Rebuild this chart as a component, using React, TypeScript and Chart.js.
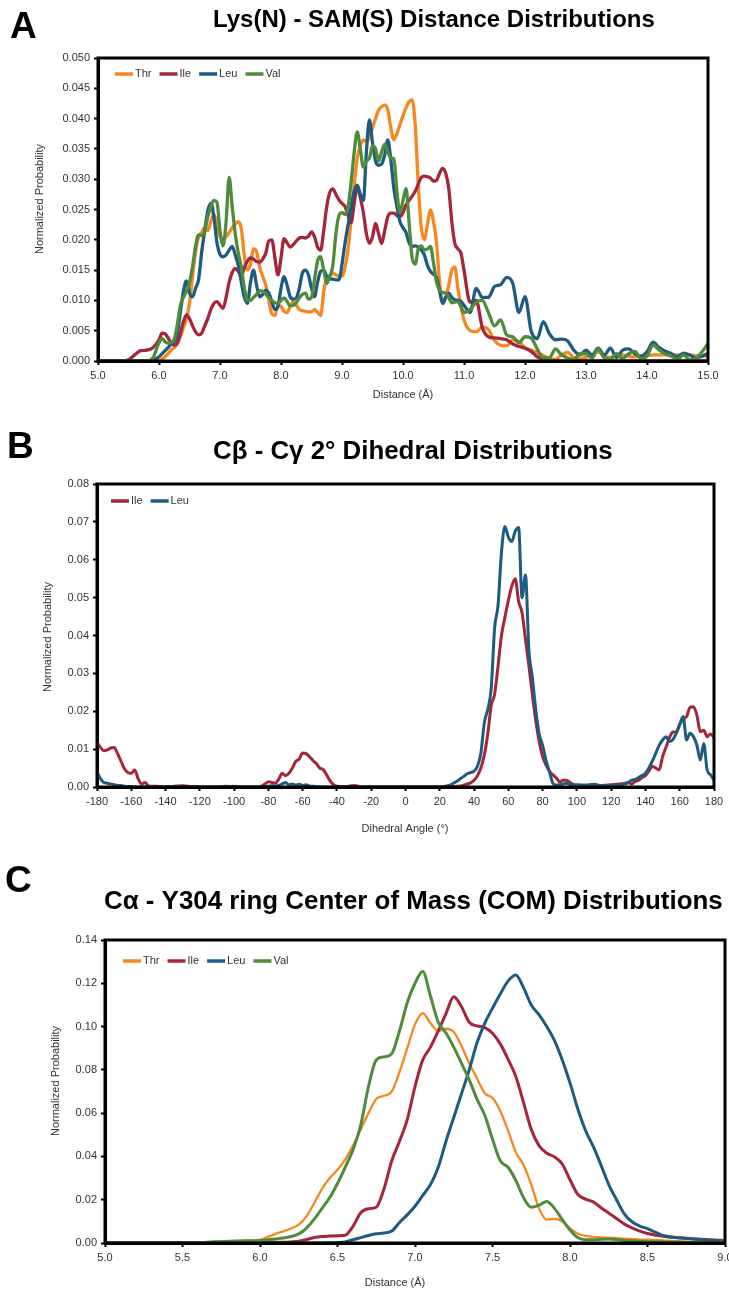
import React, { useEffect, useRef } from 'react';
import { Chart, registerables } from 'chart.js';

Chart.register(...registerables);

const FONT = '"Liberation Sans", Arial, Helvetica, sans-serif';
const W = 729;

const COLOR_THR = '#F5881F';
const COLOR_ILE = '#A3263A';
const COLOR_LEU = '#1E5B80';
const COLOR_VAL = '#4E8B3B';

// ---------------- Panel A: Lys(N) - SAM(S) distance ----------------
const distA = [
  5.0, 5.1, 5.2, 5.3, 5.4, 5.5, 5.6, 5.7, 5.8, 5.9,
  6.0, 6.05, 6.1, 6.15, 6.2, 6.25, 6.3, 6.35, 6.4, 6.45,
  6.5, 6.55, 6.6, 6.65, 6.7, 6.75, 6.8, 6.85, 6.9, 6.95,
  7.0, 7.05, 7.1, 7.15, 7.2, 7.25, 7.3, 7.35, 7.4, 7.45,
  7.5, 7.55, 7.6, 7.65, 7.7, 7.75, 7.8, 7.85, 7.9, 7.95,
  8.0, 8.05, 8.1, 8.15, 8.2, 8.25, 8.3, 8.35, 8.4, 8.45,
  8.5, 8.55, 8.6, 8.65, 8.7, 8.75, 8.8, 8.85, 8.9, 8.95,
  9.0, 9.05, 9.1, 9.15, 9.2, 9.25, 9.3, 9.35, 9.4, 9.45,
  9.5, 9.55, 9.6, 9.65, 9.7, 9.75, 9.8, 9.85, 9.9, 9.95,
  10.0, 10.05, 10.1, 10.15, 10.2, 10.25, 10.3, 10.35, 10.4, 10.45,
  10.5, 10.55, 10.6, 10.65, 10.7, 10.75, 10.8, 10.85, 10.9, 10.95,
  11.0,
  11.1, 11.2, 11.3, 11.4, 11.5, 11.6, 11.7, 11.8, 11.9, 12.0,
  12.1, 12.2, 12.3, 12.4, 12.5, 12.6, 12.7, 12.8, 12.9, 13.0,
  13.1, 13.2, 13.3, 13.4, 13.5, 13.6, 13.7, 13.8, 13.9, 14.0,
  14.1, 14.2, 14.3, 14.4, 14.5, 14.6, 14.7, 14.8, 14.9, 15.0,
];

const thrA = [
  0, 0, 0, 0, 0, 0, 0, 0, 0, 0,
  0, 0.0003, 0.0007, 0.0012, 0.0018, 0.0022, 0.0028, 0.004, 0.0055, 0.007,
  0.0095, 0.014, 0.018, 0.0205, 0.0212, 0.022, 0.0215, 0.023, 0.0242, 0.0225,
  0.0205, 0.0202, 0.0205, 0.0212, 0.022, 0.0226, 0.023, 0.0218, 0.0172, 0.015,
  0.016, 0.0185, 0.018, 0.0155, 0.014, 0.0125, 0.01, 0.0078, 0.0075, 0.0092,
  0.009, 0.0082, 0.008, 0.009, 0.0098, 0.0092, 0.0085, 0.0083, 0.0082, 0.0081,
  0.0081, 0.0085, 0.008, 0.0075, 0.0115, 0.0138, 0.014, 0.0145, 0.0142, 0.014,
  0.014, 0.0155, 0.0185, 0.0235, 0.029, 0.0335, 0.0355, 0.0365, 0.0362, 0.037,
  0.0385, 0.04, 0.0414, 0.042, 0.0422, 0.0415, 0.0385, 0.0365, 0.0375, 0.039,
  0.0405, 0.0418, 0.0428, 0.0431, 0.039, 0.029, 0.022, 0.02, 0.0225, 0.0249,
  0.023, 0.0195, 0.013, 0.0095, 0.0105, 0.0125, 0.015, 0.0155, 0.012, 0.009,
  0.0068,
  0.005, 0.0048, 0.0056, 0.0052, 0.0034, 0.0026, 0.0025, 0.0035, 0.0032, 0.0022,
  0.0018, 0.0014, 0.0009, 0.0004, 0.0003, 0.001, 0.0014, 0.0006, 0.0004, 0.0006,
  0.001, 0.0015, 0.0008, 0.0006, 0.0008, 0.001, 0.0008, 0.0007, 0.0008, 0.0009,
  0.001, 0.001, 0.001, 0.001, 0.001, 0.001, 0.001, 0.0009, 0.0008, 0.0008,
];

const ileA = [
  0, 0, 0, 0, 0, 0.0002, 0.001, 0.0017, 0.0018, 0.0022,
  0.0035, 0.0046, 0.0045, 0.0038, 0.003, 0.0026, 0.003, 0.0045, 0.0065, 0.0076,
  0.007, 0.0058, 0.0048, 0.0043, 0.0046, 0.0058, 0.007, 0.0085, 0.0095, 0.0098,
  0.0092, 0.0087, 0.0105, 0.013, 0.0146, 0.0153, 0.0148, 0.014, 0.0155, 0.0165,
  0.017, 0.0168, 0.0164, 0.0163, 0.0168, 0.0178, 0.0198, 0.02, 0.017, 0.0142,
  0.017, 0.0202, 0.0195, 0.0188, 0.0192, 0.0198, 0.0203, 0.0204, 0.0203, 0.0206,
  0.0213, 0.0205, 0.0188, 0.0183, 0.0215, 0.0255, 0.0278, 0.0284, 0.0275, 0.0266,
  0.026, 0.0255, 0.024, 0.0228, 0.026, 0.0288, 0.027, 0.0245, 0.021, 0.0194,
  0.0205, 0.0227, 0.021, 0.0194, 0.0215, 0.0238, 0.0244, 0.0244, 0.024, 0.0238,
  0.0245, 0.0258, 0.0265, 0.0272, 0.028, 0.0292, 0.0303, 0.0305, 0.0304, 0.0302,
  0.0297, 0.0298, 0.031, 0.0318, 0.031, 0.0285, 0.023, 0.0194, 0.0185, 0.0178,
  0.015,
  0.0097, 0.01, 0.0055, 0.004, 0.0038, 0.0037, 0.0035, 0.0028, 0.0024, 0.0021,
  0.0016, 0.0007, 0.0003, 0, 0, 0, 0, 0, 0, 0,
  0, 0, 0, 0, 0, 0, 0, 0, 0, 0,
  0, 0, 0, 0, 0, 0, 0, 0, 0, 0,
];

const leuA = [
  0, 0, 0, 0, 0, 0, 0, 0, 0, 0.0001,
  0.0007, 0.0012, 0.0017, 0.0022, 0.0028, 0.0032, 0.0045, 0.008, 0.0115, 0.0132,
  0.0112, 0.0106, 0.012, 0.0135, 0.018, 0.0215, 0.0248, 0.026, 0.0238, 0.0195,
  0.0176, 0.0172, 0.0175, 0.0183, 0.0189, 0.0175, 0.0158, 0.013, 0.0105, 0.0095,
  0.013, 0.015, 0.0125, 0.0106, 0.011, 0.0117, 0.0112, 0.0098, 0.0085, 0.009,
  0.012, 0.0139, 0.0125, 0.0106, 0.0102, 0.0104, 0.012, 0.0145, 0.015, 0.0142,
  0.012, 0.0106, 0.013, 0.0148, 0.015, 0.014, 0.0136, 0.0135, 0.0134, 0.0134,
  0.016, 0.0195, 0.0225, 0.0255, 0.028, 0.029, 0.0275, 0.0265, 0.0345, 0.0398,
  0.036, 0.033, 0.0323, 0.0325, 0.034, 0.0365, 0.0332, 0.0285, 0.0255, 0.023,
  0.022, 0.0212, 0.0195, 0.0189, 0.019, 0.0188, 0.0183, 0.0175, 0.0158, 0.0148,
  0.0143, 0.0138, 0.0115, 0.0095, 0.0105, 0.0112, 0.0105, 0.0101, 0.01, 0.0098,
  0.0092,
  0.008, 0.012, 0.0105, 0.0105, 0.0123, 0.0126, 0.0138, 0.0128, 0.008, 0.0106,
  0.005, 0.0037, 0.0065, 0.0045, 0.0035, 0.0036, 0.0033, 0.0018, 0.001, 0.0018,
  0.001, 0.0021, 0.001, 0.0021, 0.0006, 0.0018, 0.002, 0.0012, 0.0008, 0.0015,
  0.0031, 0.0022, 0.0016, 0.0012, 0.0007, 0.0013, 0.001, 0.0005, 0.0008, 0.0013,
];

const valA = [
  0, 0, 0, 0, 0, 0, 0, 0, 0, 0.0005,
  0.003, 0.0037, 0.0032, 0.0029, 0.0031, 0.0036, 0.006, 0.0092, 0.0105, 0.0115,
  0.013, 0.0156, 0.019, 0.0208, 0.0207, 0.0215, 0.0238, 0.0255, 0.0265, 0.0262,
  0.0215, 0.019, 0.023, 0.0303, 0.0255, 0.021, 0.0178, 0.0155, 0.012, 0.01,
  0.01, 0.0105, 0.011, 0.0116, 0.0115, 0.011, 0.0105, 0.01, 0.0096, 0.0095,
  0.01, 0.0104, 0.0098, 0.0091, 0.0092, 0.0096, 0.0104, 0.011, 0.0112, 0.0102,
  0.0105, 0.0135, 0.0165, 0.0172, 0.015, 0.0128, 0.014, 0.0158, 0.021, 0.024,
  0.0245, 0.0242, 0.0255, 0.0295, 0.0345, 0.0378, 0.035, 0.032, 0.033, 0.0335,
  0.0355, 0.035, 0.033, 0.0345, 0.0358, 0.0345, 0.0335, 0.0334, 0.028, 0.0245,
  0.0265, 0.0285, 0.0228, 0.017, 0.016, 0.0185, 0.019, 0.0183, 0.0185, 0.0189,
  0.0162, 0.013, 0.0117, 0.0113, 0.0112, 0.0105, 0.0096, 0.0097, 0.0098, 0.009,
  0.008,
  0.0085, 0.0097, 0.01, 0.008, 0.0058, 0.0068, 0.0043, 0.004, 0.003, 0.004,
  0.0038, 0.002, 0.0005, 0.0005, 0.002, 0.001, 0.0005, 0.0002, 0.0012, 0.0012,
  0.0005, 0.002, 0.0005, 0.0003, 0.0012, 0.0004, 0.0012, 0.0016, 0.0004, 0.0008,
  0.0026, 0.0018, 0.0012, 0.0008, 0.0003, 0.001, 0.0002, 0.0004, 0.0015, 0.0029,
];

// ---------------- Panel B: Cb - Cg dihedral ----------------
const angleB = [
  -180, -178, -176, -174, -172, -170, -168, -166, -164, -162, -160, -158, -156, -154, -152, -150,
  -145, -140, -135, -130, -125, -120, -115, -110, -105, -100, -95, -90,
  -86, -84, -82, -80, -78, -76, -74, -72, -70, -68, -66, -64, -62, -60, -58, -56, -54, -52, -50, -48, -46, -44, -42, -40,
  -35, -30, -25, -20, -15, -10, -5, 0, 5, 10, 15, 20,
  24, 26, 28, 30, 32, 34, 36, 38, 40, 42, 44, 46, 48, 50, 52, 54, 56, 58, 60, 62, 64, 66, 68, 70,
  72, 74, 76, 78, 80, 82, 84, 86, 88, 90, 92, 94, 96, 98, 100,
  105, 110, 115, 120, 125,
  128, 130, 132, 134, 136, 138, 140, 142, 144, 146, 148, 150, 152, 154, 156, 158, 160, 162, 164, 166, 168, 170, 172, 174, 176, 178, 180,
];

const ileB = [
  0.0118, 0.0105, 0.0096, 0.0098, 0.0103, 0.0104, 0.0088, 0.0068, 0.0048, 0.0038, 0.0036, 0.0045, 0.0022, 0.0008, 0.0012, 0.0003,
  0.0002, 0, 0.0002, 0.0003, 0.0001, 0, 0, 0, 0.0002, 0.0001, 0, 0,
  0, 0.0002, 0.0008, 0.0014, 0.0012, 0.001, 0.002, 0.0036, 0.003, 0.0036, 0.005, 0.0068, 0.0074, 0.009, 0.0088, 0.008, 0.007, 0.0062, 0.005, 0.0046, 0.0032, 0.0016, 0.0006, 0.0002,
  0.0001, 0.0004, 0, 0, 0, 0, 0, 0, 0, 0, 0, 0,
  0, 0, 0.0001, 0.0002, 0.0003, 0.0005, 0.0008, 0.0011, 0.0018, 0.003, 0.005, 0.0085, 0.014, 0.0215, 0.0245, 0.032, 0.04, 0.0448, 0.0492, 0.053, 0.055, 0.049, 0.046, 0.039,
  0.032, 0.0245, 0.0175, 0.012, 0.008, 0.0058, 0.0042, 0.0032, 0.0024, 0.0014, 0.0018, 0.0018, 0.0012, 0.0007, 0.0005,
  0.0004, 0.0003, 0.0004, 0.0006, 0.0008,
  0.001, 0.0012, 0.0008, 0.0015, 0.0018, 0.0025, 0.003, 0.0042, 0.0054, 0.005, 0.0045, 0.008, 0.0105, 0.013, 0.0145, 0.0145, 0.0165, 0.018, 0.0186, 0.021, 0.0212, 0.019, 0.0146, 0.015, 0.0133, 0.014, 0.013,
];

const leuB = [
  0.004, 0.0022, 0.0012, 0.001, 0.0008, 0.0006, 0.0004, 0.0004, 0.0002, 0.0001, 0.0001, 0, 0, 0, 0, 0,
  0, 0, 0, 0, 0, 0, 0, 0, 0, 0.0002, 0, 0,
  0, 0, 0.0001, 0.0002, 0.0003, 0.0002, 0.0004, 0.0008, 0.0012, 0.0006, 0.0008, 0.0005, 0.0007, 0.0004, 0.0006, 0.0003, 0.0002, 0.0001, 0, 0, 0, 0, 0, 0,
  0, 0, 0, 0, 0, 0, 0, 0, 0, 0, 0, 0,
  0.0003, 0.0005, 0.001, 0.0015, 0.0022, 0.0028, 0.0035, 0.0038, 0.0042, 0.0055, 0.009, 0.017, 0.0205, 0.026, 0.042, 0.048, 0.062, 0.0688, 0.066, 0.0648, 0.0675, 0.0685, 0.05, 0.056,
  0.036, 0.029, 0.0205, 0.014, 0.011, 0.007, 0.004, 0.001, 0.0005, 0.0006, 0.0008, 0.001, 0.0006, 0.0005, 0.0005,
  0.0005, 0.0007, 0.0003, 0.0003, 0.0005,
  0.0008, 0.0012, 0.0018, 0.002, 0.0025, 0.003, 0.0036, 0.005, 0.0068, 0.0089, 0.011, 0.0124, 0.0133, 0.012, 0.0125, 0.0142, 0.0165, 0.0186, 0.0124, 0.0142, 0.0133, 0.0111, 0.0071, 0.0115, 0.0045, 0.0032, 0.0018,
];

// ---------------- Panel C: Ca - Y304 ring COM distance ----------------
const distC = [
  5.0, 5.1, 5.2, 5.3, 5.4, 5.5, 5.6, 5.7, 5.8, 5.9,
  6.0, 6.05, 6.1, 6.15, 6.2, 6.25, 6.3, 6.35, 6.4, 6.45,
  6.5, 6.55, 6.6, 6.65, 6.7, 6.75, 6.8, 6.85, 6.9, 6.95,
  7.0, 7.05, 7.1, 7.15, 7.2, 7.25, 7.3, 7.35, 7.4, 7.45,
  7.5, 7.55, 7.6, 7.65, 7.7, 7.75, 7.8, 7.85, 7.9, 7.95,
  8.0, 8.05, 8.1, 8.15, 8.2, 8.25, 8.3, 8.35, 8.4, 8.45,
  8.5, 8.6, 8.7, 8.8, 8.9, 9.0,
];

const thrC = [
  0, 0, 0, 0, 0, 0, 0, 0.0005, 0.0008, 0.001,
  0.0015, 0.0028, 0.0042, 0.0054, 0.0067, 0.0085, 0.0123, 0.0185, 0.025, 0.03,
  0.0338, 0.0385, 0.045, 0.0525, 0.06, 0.0665, 0.068, 0.07, 0.079, 0.09,
  0.101, 0.1062, 0.1015, 0.098, 0.099, 0.0975, 0.091, 0.083, 0.076, 0.0692,
  0.067, 0.061, 0.052, 0.042, 0.036, 0.027, 0.016, 0.0108, 0.0112, 0.01,
  0.0068, 0.0044, 0.0033, 0.0028, 0.0026, 0.0024, 0.0022, 0.002, 0.0018, 0.0016,
  0.0015, 0.0012, 0.0008, 0.0005, 0.0003, 0.0002,
];

const ileC = [
  0, 0, 0, 0, 0, 0, 0, 0, 0, 0.0001,
  0.0002, 0.0002, 0.0003, 0.0003, 0.0005, 0.0008, 0.0016, 0.0025, 0.003, 0.0032,
  0.0034, 0.0036, 0.0077, 0.014, 0.0158, 0.0165, 0.025, 0.038, 0.047, 0.057,
  0.0723, 0.0846, 0.0905, 0.098, 0.106, 0.1138, 0.1092, 0.102, 0.1003, 0.0995,
  0.0969, 0.092, 0.085, 0.077, 0.065, 0.0525, 0.045, 0.0415, 0.0398, 0.0365,
  0.0292, 0.0225, 0.0203, 0.019, 0.0163, 0.0138, 0.0113, 0.0088, 0.007, 0.0055,
  0.0044, 0.0031, 0.0024, 0.0019, 0.0015, 0.0012,
];

const leuC = [
  0, 0, 0, 0, 0, 0, 0, 0, 0, 0,
  0, 0, 0, 0, 0, 0, 0, 0, 0, 0.0001,
  0.0002, 0.0005, 0.0015, 0.0025, 0.0035, 0.0043, 0.0046, 0.0055, 0.0095, 0.013,
  0.017, 0.022, 0.027, 0.035, 0.047, 0.058, 0.069, 0.08, 0.0925, 0.1015,
  0.1085, 0.115, 0.121, 0.1238, 0.118, 0.11, 0.1055, 0.1, 0.0935, 0.0846,
  0.074, 0.062, 0.052, 0.0446, 0.036, 0.027, 0.02, 0.0135, 0.0098, 0.0078,
  0.0066, 0.0035, 0.0024, 0.0019, 0.0013, 0.0008,
];

const valC = [
  0, 0, 0, 0, 0, 0, 0, 0.0006, 0.0008, 0.001,
  0.0012, 0.0015, 0.0019, 0.0023, 0.003, 0.0042, 0.0069, 0.011, 0.016, 0.021,
  0.0275, 0.035, 0.0431, 0.0545, 0.0723, 0.0846, 0.086, 0.0875, 0.098, 0.111,
  0.12, 0.1254, 0.114, 0.102, 0.097, 0.0905, 0.083, 0.0754, 0.0665, 0.059,
  0.048, 0.038, 0.035, 0.029, 0.021, 0.0165, 0.0175, 0.0192, 0.016, 0.0108,
  0.006, 0.0025, 0.0015, 0.0015, 0.0017, 0.0018, 0.0016, 0.0012, 0.001, 0.0008,
  0.0006, 0.0005, 0.0003, 0.0002, 0.0002, 0.0002,
];

// ---------------- decoration plugin ----------------
const decorPlugin = {
  id: 'panelDecor',
  afterDatasetsDraw(chart: any) {
    const { ctx, chartArea: a } = chart;
    ctx.save();
    ctx.strokeStyle = '#000';
    ctx.lineWidth = 3;
    ctx.strokeRect(a.left, a.top, a.right - a.left, a.bottom - a.top);
    ctx.restore();
  },
  afterDraw(chart: any, _args: any, opts: any) {
    const ctx = chart.ctx;
    ctx.save();
    ctx.fillStyle = '#000';
    ctx.textAlign = 'left';
    ctx.textBaseline = 'alphabetic';
    ctx.font = `bold 37px ${FONT}`;
    ctx.fillText(opts.letter, opts.letterX, opts.letterY);

    ctx.font = `bold 24px ${FONT}`;
    const w = ctx.measureText(opts.title).width;
    const size = (24 * (opts.titleX1 - opts.titleX0)) / w;
    ctx.font = `bold ${size}px ${FONT}`;
    ctx.fillText(opts.title, opts.titleX0, opts.titleY);

    ctx.fillStyle = '#333';
    ctx.font = `11px ${FONT}`;
    ctx.textAlign = 'center';
    ctx.textBaseline = 'middle';
    ctx.fillText(opts.xTitle, opts.xTitleX, opts.xTitleY);
    ctx.save();
    ctx.translate(opts.yTitleX, opts.yTitleY);
    ctx.rotate(-Math.PI / 2);
    ctx.fillText(opts.yTitle, 0, 0);
    ctx.restore();

    // legend
    let x = opts.legendX;
    const y = opts.legendY;
    ctx.textAlign = 'left';
    ctx.textBaseline = 'middle';
    ctx.font = `11px ${FONT}`;
    chart.data.datasets.forEach((ds: any) => {
      ctx.strokeStyle = ds.borderColor;
      ctx.lineWidth = 3.5;
      ctx.lineCap = 'butt';
      ctx.beginPath();
      ctx.moveTo(x, y);
      ctx.lineTo(x + 18, y);
      ctx.stroke();
      x += 20;
      ctx.fillStyle = '#333';
      ctx.fillText(ds.label, x, y);
      x += ctx.measureText(ds.label).width + 8;
    });
    ctx.restore();
  },
};

type Series = { label: string; values: number[]; color: string; width: number; order: number };
type PanelSpec = {
  height: number;
  area: { left: number; top: number; right: number; bottom: number };
  xs: number[];
  series: Series[];
  x: { min: number; max: number; step: number; fmt: (v: number) => string };
  y: { min: number; max: number; step: number; fmt: (v: number) => string };
  decor: any;
};

function makeConfig(p: PanelSpec): any {
  const tickFont = { family: FONT, size: 11 };
  return {
    type: 'line',
    data: {
      datasets: p.series.map((s) => ({
        label: s.label,
        data: p.xs.map((x, i) => ({ x, y: s.values[i] })),
        borderColor: s.color,
        backgroundColor: s.color,
        borderWidth: s.width,
        pointRadius: 0,
        fill: false,
        cubicInterpolationMode: 'monotone',
        order: s.order,
      })),
    },
    options: {
      responsive: false,
      maintainAspectRatio: false,
      animation: false,
      events: [],
      layout: { padding: { left: 0, top: p.area.top, right: W - p.area.right, bottom: 0 } },
      plugins: {
        legend: { display: false },
        title: { display: false },
        tooltip: { enabled: false },
        panelDecor: p.decor,
      },
      scales: {
        x: {
          type: 'linear',
          min: p.x.min,
          max: p.x.max,
          ticks: {
            stepSize: p.x.step,
            callback: (v: number) => p.x.fmt(v),
            color: '#333',
            font: tickFont,
            padding: 4,
            maxRotation: 0,
            autoSkip: false,
          },
          grid: { drawOnChartArea: false, drawTicks: true, tickLength: 4, tickWidth: 2, tickColor: '#000' },
          border: { display: true, width: 3, color: '#000' },
          afterFit: (s: any) => {
            s.height = p.height - p.area.bottom;
            s.paddingLeft = 0;
            s.paddingRight = 0;
          },
        },
        y: {
          type: 'linear',
          min: p.y.min,
          max: p.y.max,
          ticks: {
            stepSize: p.y.step,
            callback: (v: number) => p.y.fmt(v),
            color: '#333',
            font: tickFont,
            padding: 4,
            autoSkip: false,
          },
          grid: { drawOnChartArea: false, drawTicks: true, tickLength: 4, tickWidth: 2, tickColor: '#000' },
          border: { display: true, width: 3, color: '#000' },
          afterFit: (s: any) => {
            s.width = p.area.left;
            s.paddingTop = 0;
            s.paddingBottom = 0;
          },
        },
      },
    },
    plugins: [decorPlugin],
  };
}

const panelA: PanelSpec = {
  height: 420,
  area: { left: 98, top: 58, right: 708, bottom: 361 },
  xs: distA,
  series: [
    { label: 'Thr', values: thrA, color: COLOR_THR, width: 3.3, order: 4 },
    { label: 'Ile', values: ileA, color: COLOR_ILE, width: 3.3, order: 3 },
    { label: 'Leu', values: leuA, color: COLOR_LEU, width: 3.3, order: 2 },
    { label: 'Val', values: valA, color: COLOR_VAL, width: 3.3, order: 1 },
  ],
  x: { min: 5, max: 15, step: 1, fmt: (v) => v.toFixed(1) },
  y: { min: 0, max: 0.05, step: 0.005, fmt: (v) => v.toFixed(3) },
  decor: {
    letter: 'A', letterX: 10, letterY: 38,
    title: 'Lys(N) - SAM(S) Distance Distributions', titleX0: 213, titleX1: 655, titleY: 27,
    xTitle: 'Distance (Å)', xTitleX: 403, xTitleY: 395,
    yTitle: 'Normalized Probability', yTitleX: 40, yTitleY: 199,
    legendX: 115, legendY: 74,
  },
};

const panelB: PanelSpec = {
  height: 440,
  area: { left: 97, top: 64, right: 714, bottom: 367 },
  xs: angleB,
  series: [
    { label: 'Ile', values: ileB, color: COLOR_ILE, width: 3, order: 2 },
    { label: 'Leu', values: leuB, color: COLOR_LEU, width: 3, order: 1 },
  ],
  x: { min: -180, max: 180, step: 20, fmt: (v) => String(Math.round(v)) },
  y: { min: 0, max: 0.08, step: 0.01, fmt: (v) => v.toFixed(2) },
  decor: {
    letter: 'B', letterX: 7, letterY: 38,
    title: 'Cβ - Cγ 2° Dihedral Distributions', titleX0: 213, titleX1: 613, titleY: 39,
    xTitle: 'Dihedral Angle (°)', xTitleX: 405, xTitleY: 409,
    yTitle: 'Normalized Probability', yTitleX: 48, yTitleY: 217,
    legendX: 111, legendY: 81,
  },
};

const panelC: PanelSpec = {
  height: 434,
  area: { left: 105, top: 80, right: 725, bottom: 383 },
  xs: distC,
  series: [
    { label: 'Thr', values: thrC, color: COLOR_THR, width: 2.3, order: 4 },
    { label: 'Ile', values: ileC, color: COLOR_ILE, width: 3, order: 3 },
    { label: 'Leu', values: leuC, color: COLOR_LEU, width: 3, order: 2 },
    { label: 'Val', values: valC, color: COLOR_VAL, width: 3, order: 1 },
  ],
  x: { min: 5, max: 9, step: 0.5, fmt: (v) => v.toFixed(1) },
  y: { min: 0, max: 0.14, step: 0.02, fmt: (v) => v.toFixed(2) },
  decor: {
    letter: 'C', letterX: 5, letterY: 32,
    title: 'Cα - Y304 ring Center of Mass (COM) Distributions', titleX0: 104, titleX1: 723, titleY: 49,
    xTitle: 'Distance (Å)', xTitleX: 395, xTitleY: 423,
    yTitle: 'Normalized Probability', yTitleX: 56, yTitleY: 221,
    legendX: 123, legendY: 101,
  },
};

function Panel({ spec, top }: { spec: PanelSpec; top: number }) {
  const ref = useRef<HTMLCanvasElement | null>(null);
  useEffect(() => {
    if (!ref.current) return;
    const chart = new Chart(ref.current, makeConfig(spec));
    return () => chart.destroy();
  }, [spec]);
  return (
    <canvas
      ref={ref}
      width={W}
      height={spec.height}
      style={{ position: 'absolute', left: 0, top, width: W, height: spec.height, display: 'block' }}
    />
  );
}

export default function App() {
  return (
    <div style={{ position: 'absolute', left: 0, top: 0, width: W, height: 1294, background: '#fff' }}>
      <Panel spec={panelA} top={0} />
      <Panel spec={panelB} top={420} />
      <Panel spec={panelC} top={860} />
    </div>
  );
}
